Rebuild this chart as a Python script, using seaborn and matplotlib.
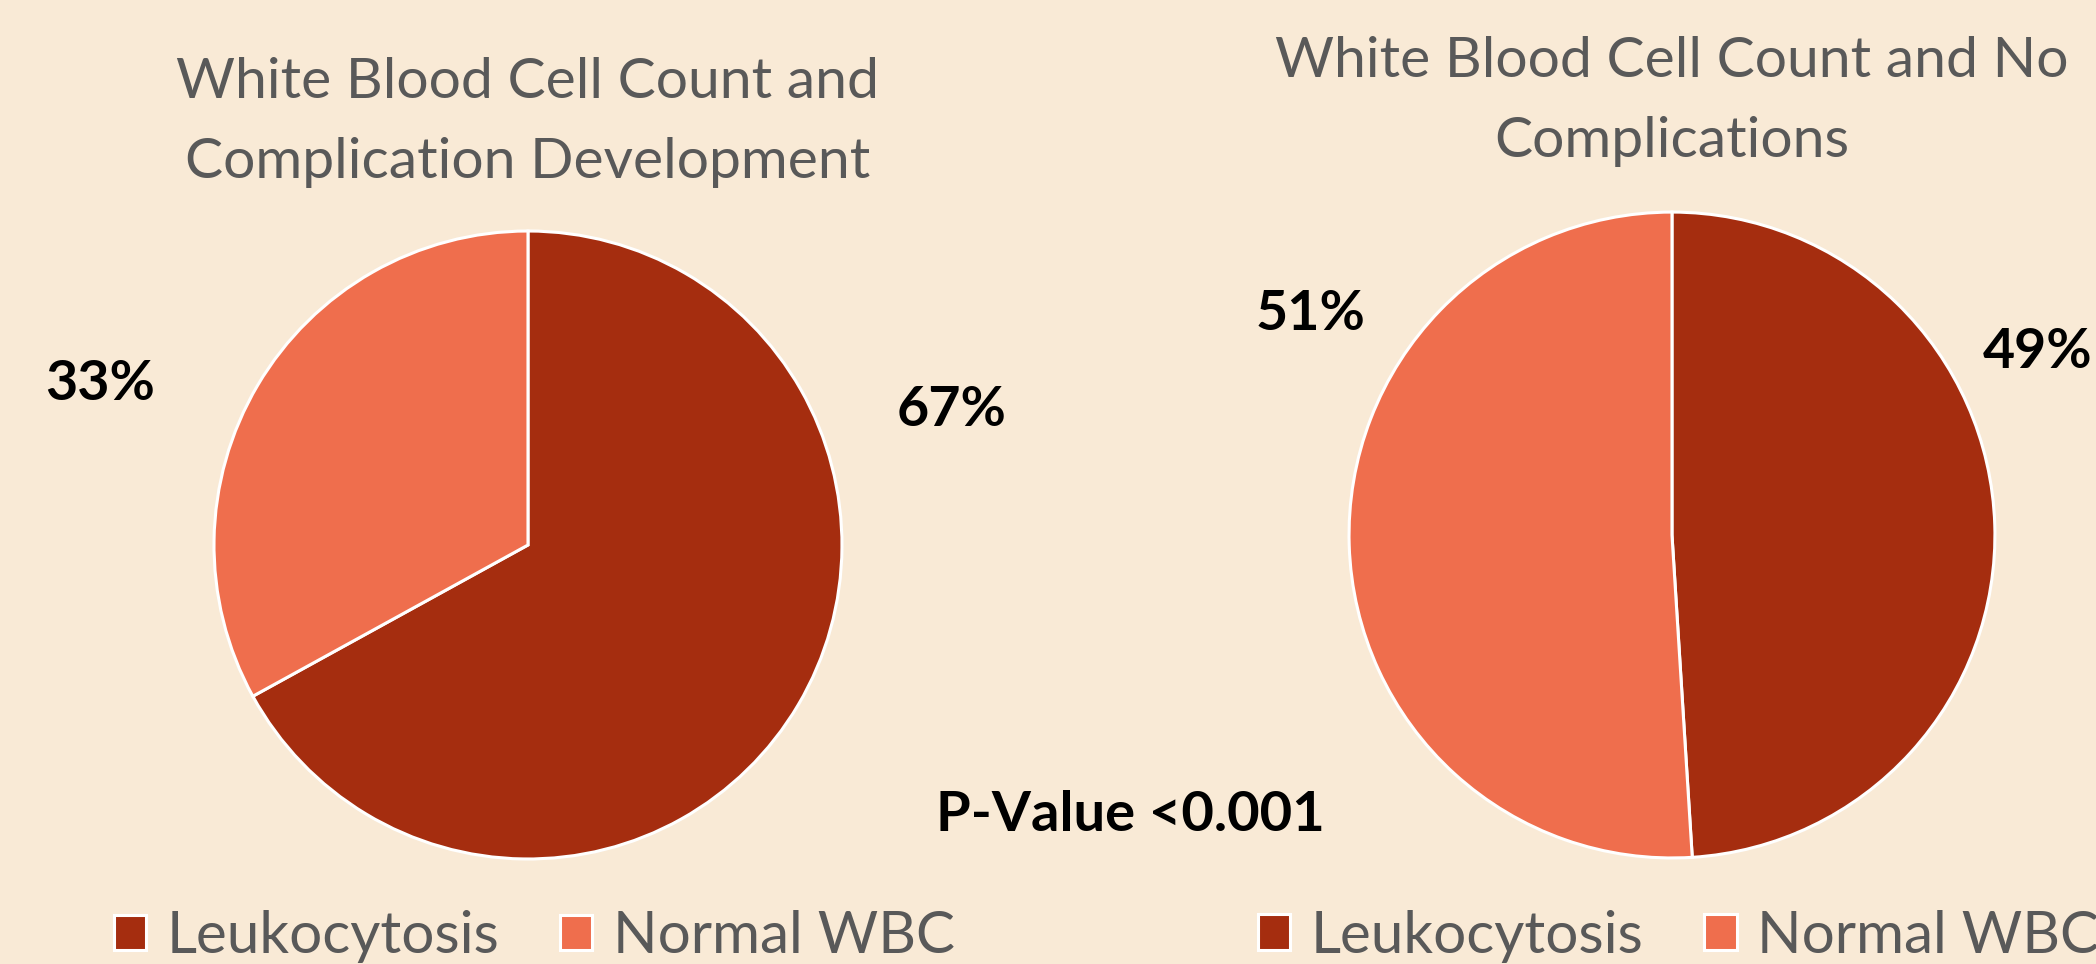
import numpy as np
import matplotlib
matplotlib.use("Agg")
import matplotlib.pyplot as plt
import seaborn as sns

# data
categories = ["Leukocytosis", "Normal WBC"]
complication_pct = [67, 33]
no_complication_pct = [49, 51]
titles = ["White Blood Cell Count and\nComplication Development",
          "White Blood Cell Count and No\nComplications"]
p_value_text = "P-Value <0.001"

sns.set_theme(style="white")
plt.rcParams['font.family'] = ['Lato', 'DejaVu Sans']

bg = "#F9EAD6"
colors = ["#A52D0F", "#EF6E4D"]
text_grey = "#595959"

fig = plt.figure(figsize=(20.96, 9.64), dpi=100, facecolor=bg)

# axes boxes in figure fraction, label offsets in radius units
pies = [
    dict(vals=complication_pct, rect=[0.1021, 0.1089, 0.2996, 0.6515],
         label_pos=[(1.35, 0.43), (-1.363, 0.513)], title_y=1.345, leg_y=-0.123),
    dict(vals=no_complication_pct, rect=[0.6436, 0.110, 0.3082, 0.670],
         label_pos=[(1.133, 0.567), (-1.118, 0.684)], title_y=1.342, leg_y=-0.121),
]

for p, title in zip(pies, titles):
    ax = fig.add_axes(p["rect"])
    ax.set_facecolor(bg)
    wedges, _ = ax.pie(p["vals"], colors=colors, startangle=90, counterclock=False,
                       radius=1, wedgeprops=dict(edgecolor="white", linewidth=2.2))
    ax.set_xlim(-1, 1)
    ax.set_ylim(-1, 1)
    ax.set_aspect("equal")
    for v, (lx, ly) in zip(p["vals"], p["label_pos"]):
        ax.text(lx, ly, f"{v}%", ha="center", va="center", fontsize=40,
                fontweight="bold", color="black", clip_on=False)
    ax.text(0, p["title_y"], title, ha="center", va="center", fontsize=41,
            color=text_grey, linespacing=1.72, clip_on=False)
    ax.legend(wedges, categories, loc="center", bbox_to_anchor=(0.51, p["leg_y"]),
              ncol=2, frameon=False, fontsize=42, labelcolor=text_grey,
              handlelength=0.55, handleheight=0.55, handletextpad=0.35,
              columnspacing=1.05)

fig.text(1130 / 2096, 1 - 815 / 964, p_value_text, ha="center", va="center",
         fontsize=40.5, fontweight="bold", color="black")

fig.savefig("out.png", dpi=100, facecolor=bg)
